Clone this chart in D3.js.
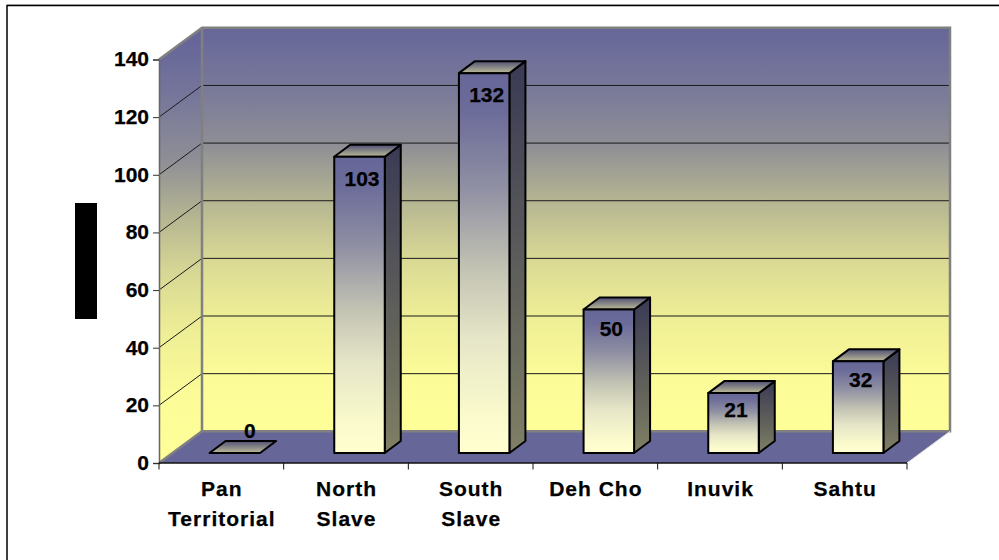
<!DOCTYPE html>
<html>
<head>
<meta charset="utf-8">
<script src="https://cdn.jsdelivr.net/npm/d3@7"></script>
<style>
  html, body { margin: 0; padding: 0; background: #fff; }
  svg { display: block; }
  text { font-family: "Liberation Sans", Arial, sans-serif; font-weight: bold; font-size: 21px; fill: #000; stroke: #000; stroke-width: 0.25px; }
</style>
</head>
<body>
<div id="chart"></div>
<script>
const categories = ["Pan Territorial", "North Slave", "South Slave", "Deh Cho", "Inuvik", "Sahtu"];
const categoryLines = [["Pan", "Territorial"], ["North", "Slave"], ["South", "Slave"], ["Deh Cho"], ["Inuvik"], ["Sahtu"]];
const values = [0, 103, 132, 50, 21, 32];
const yTicks = [0, 20, 40, 60, 80, 100, 120, 140];

const W = 999, H = 560;
const plot = { left: 159, right: 907, bottom: 463, top: 59.5 };
const depth = { dx: 43, dy: 31.7 };          // wall offset of the 3D box
const barDepth = { dx: 16, dy: 12 };         // depth of each column
const barInset = { dx: 13, dy: 10 };         // column base offset from the front edge
const barWidth = 50.5;

const x = d3.scaleBand().domain(categories).range([plot.left, plot.right]);
const y = d3.scaleLinear().domain([0, 140]).range([plot.bottom, plot.top]);

const svg = d3.select("#chart").append("svg").attr("width", W).attr("height", H);
const defs = svg.append("defs");

function gradient(id, stops, coords) {
  const g = defs.append("linearGradient").attr("id", id);
  Object.entries(coords || { x1: 0, y1: 0, x2: 0, y2: 1 }).forEach(([k, v]) => g.attr(k, v));
  stops.forEach(([o, c]) => g.append("stop").attr("offset", o).attr("stop-color", c));
}
const wallStops = [[0, "#666699"], [0.143, "#78789a"], [0.287, "#8e8e96"], [0.43, "#b5b592"], [0.57, "#d8d895"], [0.715, "#eeee96"], [0.86, "#fbfb98"], [1, "#ffff99"]];
gradient("wallBack", wallStops, { gradientUnits: "userSpaceOnUse", x1: 0, y1: y(140) - depth.dy, x2: 0, y2: y(0) - depth.dy });
gradient("wallLeft", wallStops, { gradientUnits: "userSpaceOnUse", x1: 0, y1: y(140) - depth.dy / 2, x2: 0, y2: y(0) - depth.dy / 2 });
gradient("barFront", [[0, "#666699"], [0.1, "#6c6c9a"], [0.3, "#8f8fa3"], [0.52, "#c4c4b4"], [0.7, "#e6e6c8"], [0.9, "#fafacc"], [1, "#ffffd0"]]);
gradient("barSide", [[0, "#3a3a55"], [0.65, "#66665c"], [1, "#808066"]]);
gradient("barTop", [[0, "#505075"], [1, "#bcbc98"]]);

const pts = a => a.map(p => p.join(",")).join(" ");

// page frame
svg.append("path").attr("d", `M7,${H}V5.5H${W}`).attr("fill", "none").attr("stroke", "#000").attr("stroke-width", 1.5);
svg.append("line").attr("x1", 7).attr("x2", W).attr("y1", 4.5).attr("y2", 4.5).attr("stroke", "#999").attr("stroke-width", 1);

// axis title block
svg.append("rect").attr("x", 75).attr("y", 203).attr("width", 22).attr("height", 116).attr("fill", "#000");

// walls and floor
const L = plot.left, R = plot.right, B = plot.bottom, T = y(140);
const bx = depth.dx, by = depth.dy;
svg.append("polygon").attr("points", pts([[L + bx, T - by], [R + bx, T - by], [R + bx, B - by], [L + bx, B - by]]))
  .attr("fill", "url(#wallBack)");
svg.append("polygon").attr("points", pts([[L, T], [L + bx, T - by], [L + bx, B - by], [L, B]]))
  .attr("fill", "url(#wallLeft)");

// gridlines run along the left wall and across the back wall
svg.append("g").selectAll("polyline").data(yTicks.filter(d => d > 0 && d < 140)).join("polyline")
  .attr("points", d => pts([[L, y(d)], [L + bx, y(d) - by], [R + bx, y(d) - by]]))
  .attr("fill", "none").attr("stroke", "#1a1a1a").attr("stroke-width", 1);

svg.append("polygon").attr("points", pts([[L, B], [R, B], [R + bx, B - by], [L + bx, B - by]]))
  .attr("fill", "#666699");

// wall outlines
svg.append("path")
  .attr("d", `M${L},${T}L${L + bx},${T - by}H${R + bx}V${B - by}H${L + bx}V${T - by} M${L + bx},${B - by}L${L},${B}`)
  .attr("fill", "none").attr("stroke", "#808080").attr("stroke-width", 2.5);
svg.append("line").attr("x1", R).attr("y1", B).attr("x2", R + bx).attr("y2", B - by).attr("stroke", "#ddd").attr("stroke-width", 1);

// value axis
const yAxis = svg.append("g").attr("transform", `translate(${L},0)`)
  .call(d3.axisLeft(y).tickValues(yTicks).tickSize(6).tickPadding(4));
yAxis.select(".domain").attr("stroke", "#666").attr("stroke-width", 1.5);
yAxis.selectAll(".tick line").attr("stroke", "#333");
yAxis.selectAll(".tick text").attr("font-size", null).attr("font-family", null).attr("dy", "0.3em");

// category axis with ticks on the band edges
svg.append("line").attr("x1", L).attr("x2", R).attr("y1", B).attr("y2", B).attr("stroke", "#111").attr("stroke-width", 1.5);
svg.append("g").selectAll("line").data([...categories.map(c => x(c)), R]).join("line")
  .attr("x1", d => d).attr("x2", d => d).attr("y1", B).attr("y2", B + 6.5).attr("stroke", "#111");
const catLabels = svg.append("g").selectAll("text").data(categories).join("text")
  .attr("text-anchor", "middle").attr("letter-spacing", 1);
catLabels.each(function (c, k) {
  const cx = x(c) + x.bandwidth() / 2 + 0.5;
  d3.select(this).selectAll("tspan").data(categoryLines[k]).join("tspan")
    .attr("x", cx).attr("y", (d, i) => 496 + i * 29.7).text(d => d);
});

// columns
const bars = svg.append("g").selectAll("g").data(categories.map((c, i) => ({ c, v: values[i] }))).join("g");
const front = d => {
  const x0 = x(d.c) + (x.bandwidth() - barWidth) / 2 + barInset.dx + 0.5;
  const base = y(0) - barInset.dy;
  const top = base - (y(0) - y(d.v)) + (d.v > 0 ? 0.6 : 0);
  return { x0, x1: x0 + barWidth, base, top };
};
bars.filter(d => d.v > 0).append("polygon")
  .attr("points", d => { const f = front(d); return pts([[f.x1, f.top], [f.x1 + barDepth.dx, f.top - barDepth.dy], [f.x1 + barDepth.dx, f.base - barDepth.dy], [f.x1, f.base]]); })
  .attr("fill", "url(#barSide)");
bars.append("polygon")
  .attr("points", d => { const f = front(d); return pts([[f.x0, f.top], [f.x0 + barDepth.dx, f.top - barDepth.dy], [f.x1 + barDepth.dx, f.top - barDepth.dy], [f.x1, f.top]]); })
  .attr("fill", "url(#barTop)");
bars.filter(d => d.v > 0).append("rect")
  .attr("x", d => front(d).x0).attr("y", d => front(d).top)
  .attr("width", barWidth).attr("height", d => front(d).base - front(d).top)
  .attr("fill", "url(#barFront)");
bars.selectAll("polygon, rect").attr("stroke", "#000").attr("stroke-width", 2).attr("stroke-linejoin", "round");

// value labels sit inside each column, or above it when the column is flat
bars.append("text")
  .attr("text-anchor", "middle")
  .attr("x", d => (front(d).x0 + front(d).x1) / 2 + (d.v > 0 ? 2.5 : 15))
  .attr("y", d => d.v > 0 ? front(d).top + Math.min(29, 22 + d.v * 0.1) : front(d).top - 15)
  .text(d => d.v);
</script>
</body>
</html>
